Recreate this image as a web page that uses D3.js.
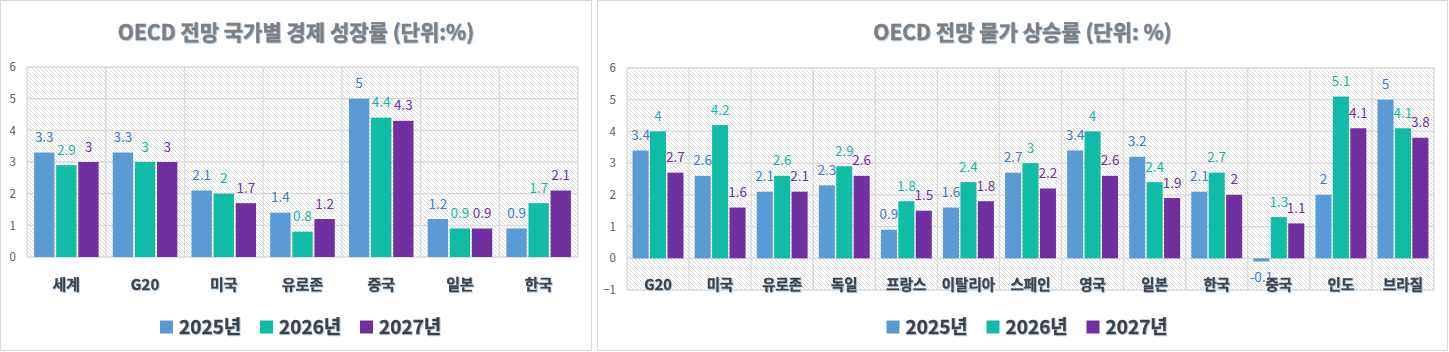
<!DOCTYPE html>
<html>
<head>
<meta charset="utf-8">
<script src="https://cdn.jsdelivr.net/npm/d3@7"></script>
<style>
  body { margin: 0; background: #fff; }
  svg { display: block; font-family: "Noto Sans CJK KR", "Noto Sans", sans-serif; }
</style>
</head>
<body>
<div id="container"></div>
<script>
// 데이터
const seriesNames = ["2025년", "2026년", "2027년"];
const seriesColors = ["#5b9bd5", "#11bca6", "#7030a0"];
const labelColors = ["#3d7cc9", "#13b8a2", "#7030a0"];

// 경제 성장률
const growthCats = ["세계", "G20", "미국", "유로존", "중국", "일본", "한국"];
const growth2025 = [3.3, 3.3, 2.1, 1.4, 5, 1.2, 0.9];
const growth2026 = [2.9, 3, 2, 0.8, 4.4, 0.9, 1.7];
const growth2027 = [3, 3, 1.7, 1.2, 4.3, 0.9, 2.1];
const growthTicks = [0, 1, 2, 3, 4, 5, 6];

// 물가 상승률
const priceCats = ["G20", "미국", "유로존", "독일", "프랑스", "이탈리아", "스페인", "영국", "일본", "한국", "중국", "인도", "브라질"];
const price2025 = [3.4, 2.6, 2.1, 2.3, 0.9, 1.6, 2.7, 3.4, 3.2, 2.1, -0.1, 2, 5];
const price2026 = [4, 4.2, 2.6, 2.9, 1.8, 2.4, 3, 4, 2.4, 2.7, 1.3, 5.1, 4.1];
const price2027 = [2.7, 1.6, 2.1, 2.6, 1.5, 1.8, 2.2, 2.6, 1.9, 2, 1.1, 4.1, 3.8];
const priceTicks = [-1, 0, 1, 2, 3, 4, 5, 6];

const width = 1449, height = 352;

const svg = d3.select("#container")
  .append("svg")
  .attr("width", width)
  .attr("height", height)
  .attr("viewBox", [0, 0, width, height]);

const defs = svg.append("defs");
// 빗금 배경 패턴
const pat = defs.append("pattern")
  .attr("id", "hatch")
  .attr("patternUnits", "userSpaceOnUse")
  .attr("width", 4).attr("height", 4);
pat.append("rect").attr("width", 4).attr("height", 4).attr("fill", "#fff");
pat.append("path")
  .attr("d", "M-1,-1L5,5M3,-1L5,1M-1,3L1,5")
  .attr("stroke", "#d2d2d2").attr("stroke-width", 0.8);

// 글자 그림자
const f = defs.append("filter").attr("id", "shadow")
  .attr("x", "-5%").attr("y", "-20%").attr("width", "110%").attr("height", "140%");
f.append("feDropShadow")
  .attr("dx", 0.8).attr("dy", 0.8).attr("stdDeviation", 0.4)
  .attr("flood-color", "#9dc3e6").attr("flood-opacity", 0.9);

function BarChart(g, cats, series, {
  box, // [x0, y0, x1, y1]
  plot, // [left, top, right, bottom]
  yDomain,
  ticks,
  title,
  catFont = 15,
  catY = 285,
  legendY = 327,
  legendShift = 4
}) {
  // 차트 테두리
  g.append("rect")
    .attr("x", box[0]).attr("y", box[1])
    .attr("width", box[2] - box[0]).attr("height", box[3] - box[1])
    .attr("fill", "#fff").attr("stroke", "#d9d9d9").attr("stroke-width", 1.2);

  const cx = (box[0] + box[2]) / 2;

  // 제목
  g.append("text")
    .attr("x", cx).attr("y", 40)
    .attr("text-anchor", "middle")
    .attr("font-size", 21).attr("font-weight", "bold")
    .attr("fill", "#7f7f7f")
    .attr("stroke", "#7f7f7f").attr("stroke-width", 0.5)
    .attr("filter", "url(#shadow)")
    .text(title);

  const x0 = d3.scaleBand().domain(cats).range([plot[0], plot[2]]);
  const bw = x0.bandwidth();
  const pad = bw * 0.09;
  const x1 = d3.scaleBand().domain(d3.range(series.length))
    .range([pad, bw - pad]).paddingInner(0.08);
  const y = d3.scaleLinear().domain(yDomain).range([plot[3], plot[1]]);

  // 플롯 배경
  g.append("rect")
    .attr("x", plot[0]).attr("y", plot[1])
    .attr("width", plot[2] - plot[0]).attr("height", plot[3] - plot[1])
    .attr("fill", "url(#hatch)");

  // 가로 격자선
  g.append("g")
    .selectAll("line")
    .data(ticks)
    .join("line")
    .attr("x1", plot[0]).attr("x2", plot[2])
    .attr("y1", d => y(d)).attr("y2", d => y(d))
    .attr("stroke", "#d9d9d9").attr("stroke-width", 1.3);

  // 세로 구분선
  g.append("g")
    .selectAll("line")
    .data(d3.range(cats.length + 1))
    .join("line")
    .attr("x1", i => plot[0] + i * bw).attr("x2", i => plot[0] + i * bw)
    .attr("y1", plot[1]).attr("y2", plot[3])
    .attr("stroke", "#d9d9d9").attr("stroke-width", 1.3);

  // y축 눈금 글자
  g.append("g")
    .attr("transform", `translate(${plot[0] - 8},0)`)
    .call(d3.axisLeft(y).tickValues(ticks).tickFormat(d3.format("d")).tickSize(0).tickPadding(3))
    .call(g => g.select(".domain").remove())
    .call(g => g.selectAll("text")
      .attr("font-family", "'Noto Sans CJK KR', sans-serif")
      .attr("font-size", 11.5).attr("fill", "#595959"));

  // 막대
  const groups = g.append("g")
    .selectAll("g")
    .data(cats)
    .join("g")
    .attr("transform", d => `translate(${x0(d)},0)`);

  groups.selectAll("rect")
    .data((d, i) => series.map((s, k) => ({ k, v: s[i] })))
    .join("rect")
    .attr("x", d => x1(d.k))
    .attr("width", x1.bandwidth())
    .attr("y", d => Math.min(y(d.v), y(0)))
    .attr("height", d => Math.abs(y(d.v) - y(0)))
    .attr("fill", d => seriesColors[d.k]);

  // 데이터 레이블
  groups.selectAll("text")
    .data((d, i) => series.map((s, k) => ({ k, v: s[i] })))
    .join("text")
    .attr("x", d => x1(d.k) + x1.bandwidth() / 2)
    .attr("y", d => d.v >= 0 ? y(d.v) - 10.5 : y(d.v) + 21)
    .attr("text-anchor", "middle")
    .attr("font-size", 13.5)
    .attr("fill", d => labelColors[d.k])
    .text(d => d.v);

  // 범주 글자
  g.append("g")
    .attr("transform", `translate(0,${catY})`)
    .call(d3.axisBottom(x0).tickSize(0).tickPadding(0))
    .call(g => g.select(".domain").remove())
    .call(g => g.selectAll("text")
      .attr("y", 0).attr("dy", "0.35em")
      .attr("font-family", "'Noto Sans CJK KR', sans-serif")
      .attr("font-size", catFont).attr("font-weight", "bold")
      .attr("fill", "#404040")
      .attr("stroke", "#404040").attr("stroke-width", 0.4)
      .attr("filter", "url(#shadow)"));

  // 범례
  const step = 100;
  const lx = cx + legendShift - 140;
  const leg = g.append("g")
    .selectAll("g")
    .data(seriesNames)
    .join("g")
    .attr("transform", (d, i) => `translate(${lx + i * step},${legendY})`);
  leg.append("rect")
    .attr("x", 0).attr("y", -6.5)
    .attr("width", 13).attr("height", 13)
    .attr("fill", (d, i) => seriesColors[i]);
  leg.append("text")
    .attr("x", 19).attr("y", 0).attr("dy", "0.35em")
    .attr("font-size", 19).attr("font-weight", "bold")
    .attr("fill", "#404040")
    .attr("stroke", "#404040").attr("stroke-width", 0.4)
    .attr("filter", "url(#shadow)")
    .text(d => d);
}

BarChart(svg.append("g"), growthCats, [growth2025, growth2026, growth2027], {
  box: [0.5, 0.5, 591.5, 350.5],
  plot: [27, 67, 578, 257],
  yDomain: [0, 6],
  ticks: growthTicks,
  title: "OECD 전망 국가별 경제 성장률 (단위:%)",
  catFont: 15
});

BarChart(svg.append("g"), priceCats, [price2025, price2026, price2027], {
  box: [597.5, 0.5, 1447.5, 350.5],
  plot: [627, 68, 1434, 290],
  yDomain: [-1, 6],
  ticks: priceTicks,
  title: "OECD 전망 물가 상승률 (단위: %)",
  catFont: 14.5
});
</script>
</body>
</html>
